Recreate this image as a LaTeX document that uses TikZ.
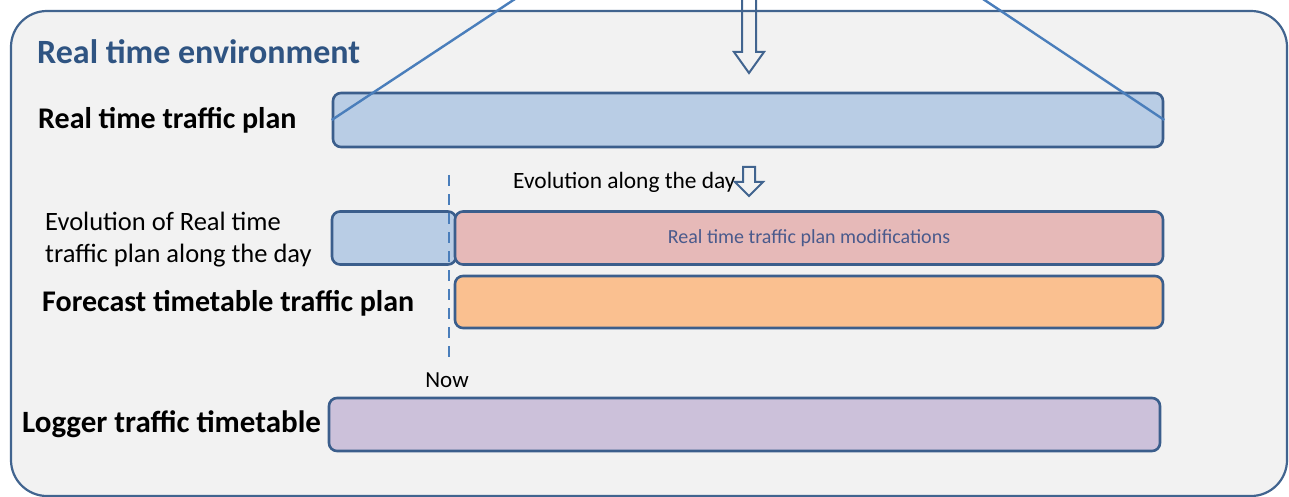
\documentclass[tikz,border=0pt]{standalone}
\usepackage{fontspec}
\setmainfont{Carlito}
\definecolor{frameC}{RGB}{65,100,143}
\definecolor{bgC}{RGB}{242,242,242}
\definecolor{barB}{RGB}{59,94,140}
\definecolor{blueF}{RGB}{185,205,229}
\definecolor{pinkF}{RGB}{230,185,184}
\definecolor{orangeF}{RGB}{250,192,144}
\definecolor{purpleF}{RGB}{204,193,218}
\definecolor{lineC}{RGB}{74,126,187}
\definecolor{titleC}{RGB}{47,84,130}
\definecolor{modC}{RGB}{74,90,140}
\tikzset{
  bar/.style={draw=barB, line width=2.6pt, rounded corners=8pt, inner sep=0pt},
  diag/.style={draw=lineC, line width=2.4pt},
  hollow/.style={draw=frameC, line width=2pt, line join=miter},
  lbl/.style={anchor=west, inner sep=0pt, font=\fontsize{30}{34}\selectfont\bfseries},
}
\begin{document}
\begin{tikzpicture}[x=1pt,y=-1pt]
\useasboundingbox (0,0) rectangle (1289,497);
\begin{scope}
\clip (0,0) rectangle (1289,497);
\fill[white] (0,0) rectangle (1289,497);
\draw[draw=frameC, fill=bgC, line width=2.2pt, rounded corners=36pt] (11,11) rectangle (1287,496);
\end{scope}
% title
\node[anchor=west, inner sep=0pt, text=titleC, font=\fontsize{34}{38}\selectfont\bfseries] (title) at (37,52) {Real time environment};
% bars
\node[bar, fill=blueF, minimum width=830pt, minimum height=54pt] (rt) at (748,120) {};
\node[bar, fill=blueF, minimum width=124pt, minimum height=53pt] (evo) at (394,238) {};
\node[bar, fill=pinkF, minimum width=708pt, minimum height=53pt, text=modC, font=\fontsize{20}{24}\selectfont] (mod) at (809,238) {Real time traffic plan modifications};
\node[bar, fill=orangeF, minimum width=708pt, minimum height=52pt] (fc) at (809,302) {};
\node[bar, fill=purpleF, minimum width=831pt, minimum height=53pt] (log) at (744.5,424.5) {};
% labels
\node[lbl] (lrt) at (38,120) {Real time traffic plan};
\node[anchor=west, inner sep=0pt, align=left, font=\fontsize{26.5}{32}\selectfont] (levo) at (45,240) {Evolution of Real time\\traffic plan along the day};
\node[lbl] (lfc) at (42,303) {Forecast timetable traffic plan};
\node[lbl, font=\fontsize{31}{34}\selectfont\bfseries] (llog) at (22,424) {Logger traffic timetable};
% diagonals
\coordinate (ltop) at (518,-3);
\coordinate (rtop) at (980,-3);
\draw[diag] (rt.west) -- (ltop);
\draw[diag] (rt.east) -- (rtop);
% big hollow arrow
\coordinate (atip) at (749,73);
\draw[hollow] (742,-3) -- (742,52) -- (734,52) -- (atip) -- (764,52) -- (756,52) -- (756,-3);
% now line
\coordinate (nowtop) at (449,175);
\coordinate (nowbot) at (449,360);
\draw[draw=lineC, line width=2.6pt, dash pattern=on 11pt off 8pt] (nowtop) -- (nowbot);
\node[inner sep=0pt, font=\fontsize{23}{26}\selectfont] (now) at (447,380) {Now};
% evolution along the day
\node[anchor=west, inner sep=0pt, font=\fontsize{23.4}{26}\selectfont] (evtxt) at (513,182) {Evolution along the day};
\coordinate (stip) at (749,196);
\draw[hollow] (743,167) -- (743,182) -- (735,182) -- (stip) -- (763,182) -- (755,182) -- (755,167) -- cycle;
\end{tikzpicture}
\end{document}
